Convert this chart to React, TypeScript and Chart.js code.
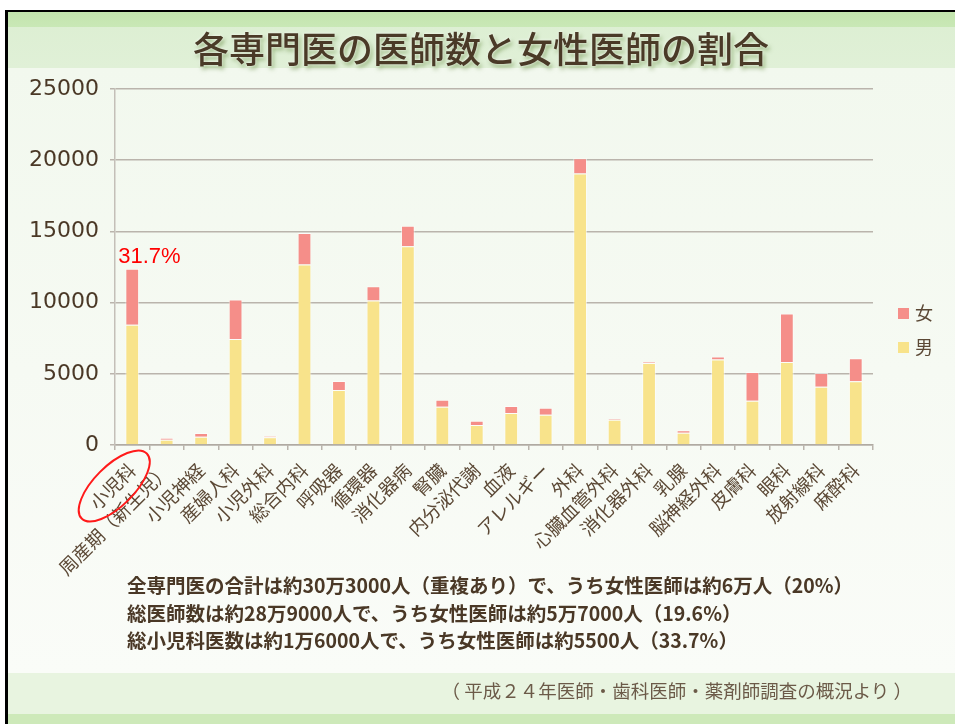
import React, { useEffect, useRef } from 'react';
import { Chart, registerables } from 'chart.js';

Chart.register(...registerables);

const categories = [
  '小児科', '周産期（新生児）', '小児神経', '産婦人科', '小児外科', '総合内科', '呼吸器', '循環器',
  '消化器病', '腎臓', '内分泌代謝', '血液', 'アレルギー', '外科', '心臓血管外科', '消化器外科',
  '乳腺', '脳神経外科', '皮膚科', '眼科', '放射線科', '麻酔科',
];
const maleValues = [8450, 370, 580, 7450, 540, 12670, 3860, 10150, 13950, 2690, 1400, 2240, 2130, 19070, 1780, 5750, 860, 6010, 3110, 5820, 4090, 4470];
const femaleValues = [3930, 130, 260, 2770, 90, 2220, 630, 1000, 1450, 490, 300, 490, 490, 1060, 50, 70, 170, 210, 2010, 3420, 960, 1630];
const yTicks = [0, 5000, 10000, 15000, 20000, 25000];
const maleLabel = '男';
const femaleLabel = '女';
const titleText = '各専門医の医師数と女性医師の割合';
const noteLines = [
  '全専門医の合計は約30万3000人（重複あり）で、うち女性医師は約6万人（20%）',
  '総医師数は約28万9000人で、うち女性医師は約5万7000人（19.6%）',
  '総小児科医数は約1万6000人で、うち女性医師は約5500人（33.7%）',
];
const sourceText = '（ 平成２４年医師・歯科医師・薬剤師調査の概況より ）';

const TEXT_BROWN = '#4a3826';
const LABEL_BROWN = '#5b4835';
const MALE_COLOR = '#f8e38b';
const FEMALE_COLOR = '#f58e89';
const GRID = '#bab4ac';

const legendPlugin = {
  id: 'customLegend',
  afterDraw(chart: any) {
    const ctx = chart.ctx;
    const area = chart.chartArea;
    const items = [...chart.data.datasets].reverse();
    ctx.save();
    ctx.font = '18px "Noto Sans CJK JP"';
    ctx.textBaseline = 'middle';
    ctx.textAlign = 'left';
    items.forEach((ds: any, i: number) => {
      const cy = area.top + 224 + i * 34;
      const bx = area.right + 25;
      ctx.fillStyle = ds.backgroundColor;
      ctx.fillRect(bx, cy - 5, 11, 11);
      ctx.fillStyle = LABEL_BROWN;
      ctx.fillText(ds.label, bx + 17, cy);
    });
    ctx.restore();
  },
};

const annotationPlugin = {
  id: 'pediatricsNote',
  afterDraw(chart: any) {
    const ctx = chart.ctx;
    const xs = chart.scales.x;
    const ys = chart.scales.y;
    const total = maleValues[0] + femaleValues[0];
    const pct = ((femaleValues[0] / total) * 100).toFixed(1) + '%';
    const xc = xs.getPixelForValue(0);
    const yt = ys.getPixelForValue(total);
    ctx.save();
    ctx.fillStyle = '#ff0000';
    ctx.font = '22px "Liberation Sans", Arial, sans-serif';
    ctx.textAlign = 'left';
    ctx.textBaseline = 'alphabetic';
    ctx.fillText(pct, xc - 14, yt - 6);
    ctx.strokeStyle = '#ff1a1a';
    ctx.lineWidth = 2;
    ctx.beginPath();
    ctx.ellipse(xc - 18, chart.chartArea.bottom + 41, 46, 20, -Math.PI / 4, 0, Math.PI * 2);
    ctx.stroke();
    ctx.restore();
  },
};

export default function App() {
  const canvasRef = useRef<HTMLCanvasElement>(null);

  useEffect(() => {
    if (!canvasRef.current) return;
    const chart = new Chart(canvasRef.current, {
      type: 'bar',
      data: {
        labels: categories,
        datasets: [
          {
            label: maleLabel,
            data: maleValues,
            backgroundColor: MALE_COLOR,
            borderColor: 'rgba(255,255,255,0.55)',
            borderWidth: 1,
            categoryPercentage: 1,
            barPercentage: 0.4,
          },
          {
            label: femaleLabel,
            data: femaleValues,
            backgroundColor: FEMALE_COLOR,
            borderColor: 'rgba(255,255,255,0.55)',
            borderWidth: 1,
            categoryPercentage: 1,
            barPercentage: 0.4,
          },
        ],
      },
      options: {
        responsive: false,
        animation: false,
        devicePixelRatio: 1,
        layout: { padding: { top: 89, right: 82, left: 0, bottom: 0 } },
        plugins: {
          legend: { display: false },
          tooltip: { enabled: false },
        },
        scales: {
          x: {
            stacked: true,
            grid: {
              display: true,
              drawOnChartArea: false,
              offset: true,
              tickLength: 5,
              color: GRID,
              lineWidth: 1.5,
            },
            border: { color: '#b0aaa2', width: 1.5 },
            ticks: {
              autoSkip: false,
              maxRotation: 45,
              minRotation: 45,
              padding: 9,
              color: LABEL_BROWN,
              font: { family: '"Noto Sans CJK JP"', size: 18.5 },
            },
            afterFit: (s: any) => {
              s.height = 279;
            },
          },
          y: {
            stacked: true,
            min: 0,
            max: 25000,
            afterBuildTicks: (s: any) => {
              s.ticks = yTicks.map((v) => ({ value: v }));
            },
            ticks: {
              padding: 11,
              color: TEXT_BROWN,
              font: { family: '"DejaVu Sans"', size: 22 },
              callback: (v: any) => String(v),
            },
            grid: { color: GRID, lineWidth: 1.5, tickLength: 5 },
            border: { color: '#c4bfb8', width: 1.5 },
            afterFit: (s: any) => {
              s.width = 115;
            },
          },
        },
      },
      plugins: [legendPlugin, annotationPlugin],
    });
    return () => chart.destroy();
  }, []);

  return (
    <div style={{ position: 'absolute', left: 0, top: 0, width: 955, height: 724, background: '#ffffff', overflow: 'hidden' }}>
      <div
        style={{
          position: 'absolute',
          left: 5,
          top: 10,
          right: 0,
          bottom: 0,
          borderTop: '2px solid #000',
          borderLeft: '3px solid #000',
          background:
            'linear-gradient(to bottom, #c3e5ad 0px, #c9e8b6 15px, #ddefd3 15px, #e0f0d7 56px, #f2f8ee 56px, #fafcf8 661px, #e8f4e0 661px, #e8f4e0 702px, #cde9b9 702px, #cde9b9 712px)',
        }}
      />
      <canvas ref={canvasRef} width={955} height={724} style={{ position: 'absolute', left: 0, top: 0, width: 955, height: 724 }} />
      <div
        style={{
          position: 'absolute',
          left: 0,
          top: 27,
          width: 962,
          textAlign: 'center',
          fontFamily: '"Noto Sans CJK JP"',
          fontSize: 36,
          lineHeight: '40px',
          fontWeight: 500,
          color: '#4a3a27',
          textShadow: '0 0 3px rgba(255,255,255,0.9), 2px 3px 4px rgba(90,130,50,0.55)',
          whiteSpace: 'nowrap',
        }}
      >
        {titleText}
      </div>
      {noteLines.map((t, i) => (
        <div
          key={i}
          style={{
            position: 'absolute',
            left: 127,
            top: 575 + i * 27.5,
            fontFamily: '"Noto Sans CJK JP"',
            fontSize: 19.5,
            lineHeight: '20px',
            fontWeight: 'bold',
            color: TEXT_BROWN,
            whiteSpace: 'nowrap',
          }}
        >
          {t}
        </div>
      ))}
      <div
        style={{
          position: 'absolute',
          right: 43,
          top: 680,
          fontFamily: '"Noto Sans CJK JP"',
          fontSize: 18.5,
          lineHeight: '20px',
          color: '#6b5a48',
          whiteSpace: 'nowrap',
        }}
      >
        {sourceText}
      </div>
    </div>
  );
}
